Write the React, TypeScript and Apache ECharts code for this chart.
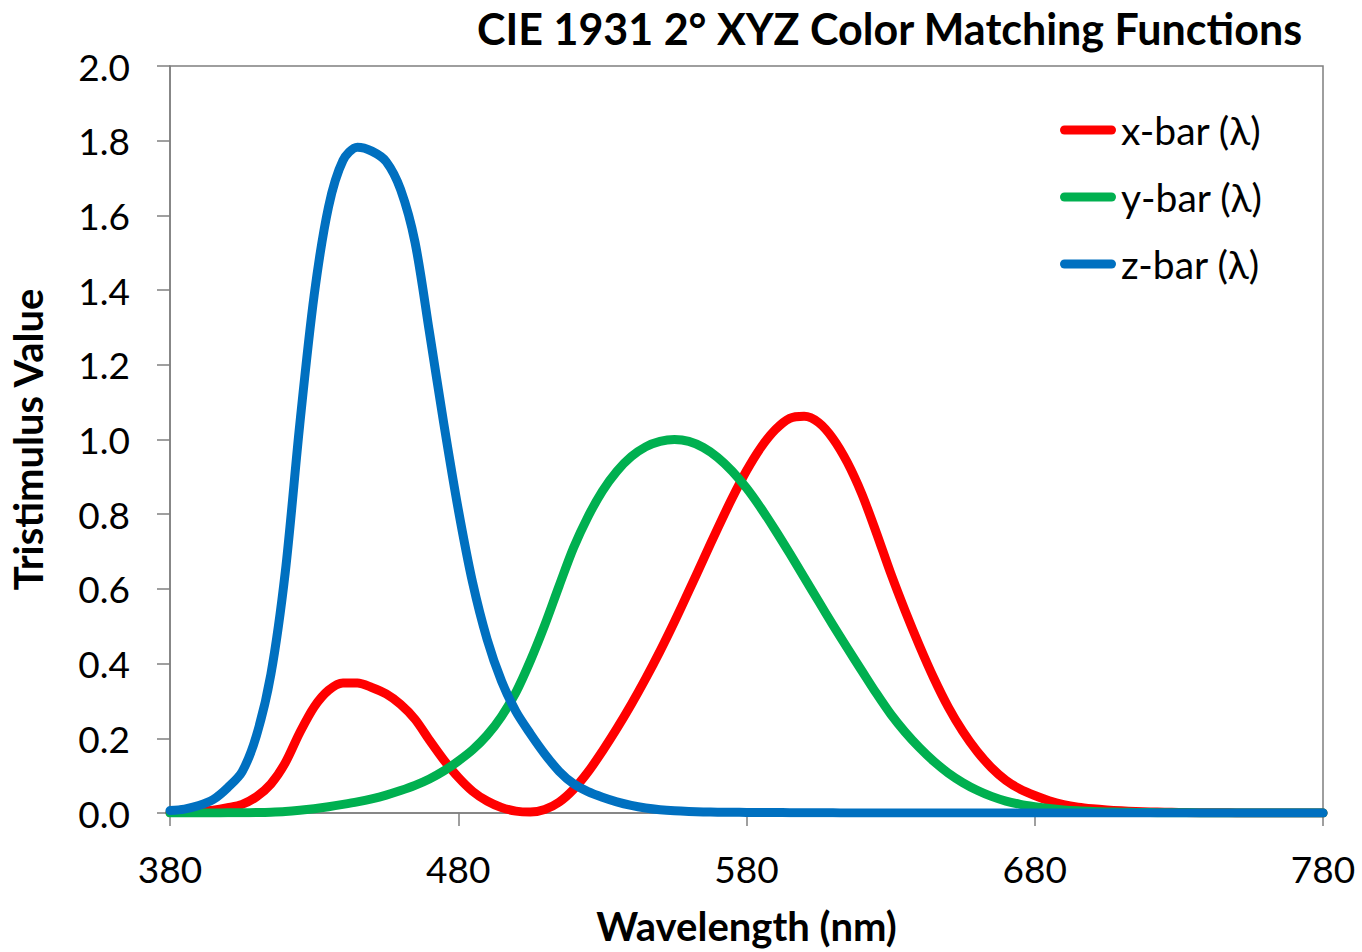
import React, { useEffect, useRef } from "react";
import * as echarts from "echarts";

const titleText = "CIE 1931 2° XYZ Color Matching Functions";
const xAxisTitle = "Wavelength (nm)";
const yAxisTitle = "Tristimulus Value";
const seriesNames = ["x-bar (λ)", "y-bar (λ)", "z-bar (λ)"];

const wavelengths = [
  380, 385, 390, 395, 400, 405, 410, 415, 420, 425, 430, 435, 440, 445, 450, 455,
  460, 465, 470, 475, 480, 485, 490, 495, 500, 505, 510, 515, 520, 525, 530, 535,
  540, 545, 550, 555, 560, 565, 570, 575, 580, 585, 590, 595, 600, 605, 610, 615,
  620, 625, 630, 635, 640, 645, 650, 655, 660, 665, 670, 675, 680, 685, 690, 695,
  700, 705, 710, 715, 720, 725, 730, 735, 740, 745, 750, 755, 760, 765, 770, 775, 780,
];

const xBar = [
  0.001368, 0.002236, 0.004243, 0.00765, 0.01431, 0.02319, 0.04351, 0.07763, 0.13438, 0.21477,
  0.2839, 0.3285, 0.34828, 0.34806, 0.3362, 0.3187, 0.2908, 0.2511, 0.19536, 0.1421,
  0.09564, 0.05795, 0.03201, 0.0147, 0.0049, 0.0024, 0.0093, 0.0291, 0.06327, 0.1096,
  0.1655, 0.22575, 0.2904, 0.3597, 0.43345, 0.51205, 0.5945, 0.6784, 0.7621, 0.8425,
  0.9163, 0.9786, 1.0263, 1.0567, 1.0622, 1.0456, 1.0026, 0.9384, 0.85445, 0.7514,
  0.6424, 0.5419, 0.4479, 0.3608, 0.2835, 0.2187, 0.1649, 0.1212, 0.0874, 0.0636,
  0.04677, 0.0329, 0.0227, 0.01584, 0.011359, 0.008111, 0.00579, 0.004109, 0.002899, 0.002049,
  0.00144, 0.001, 0.00069, 0.000476, 0.000332, 0.000235, 0.000166, 0.000117, 0.000083, 0.000059,
  0.000042,
];

const yBar = [
  0.000039, 0.000064, 0.00012, 0.000217, 0.000396, 0.00064, 0.00121, 0.00218, 0.004, 0.0073,
  0.0116, 0.01684, 0.023, 0.0298, 0.038, 0.048, 0.06, 0.0739, 0.09098, 0.1126,
  0.13902, 0.1693, 0.20802, 0.2586, 0.323, 0.4073, 0.503, 0.6082, 0.71, 0.7932,
  0.862, 0.91485, 0.954, 0.9803, 0.99495, 1.0, 0.995, 0.9786, 0.952, 0.9154,
  0.87, 0.8163, 0.757, 0.6949, 0.631, 0.5668, 0.503, 0.4412, 0.381, 0.321,
  0.265, 0.217, 0.175, 0.1382, 0.107, 0.0816, 0.061, 0.04458, 0.032, 0.0232,
  0.017, 0.01192, 0.00821, 0.005723, 0.004102, 0.002929, 0.002091, 0.001484, 0.001047, 0.00074,
  0.00052, 0.000361, 0.000249, 0.000172, 0.00012, 0.000085, 0.00006, 0.000042, 0.00003, 0.000021,
  0.000015,
];

const zBar = [
  0.00645, 0.01055, 0.02005, 0.03621, 0.06785, 0.1102, 0.2074, 0.3713, 0.6456, 1.03905,
  1.3856, 1.62296, 1.74706, 1.7826, 1.77211, 1.7441, 1.6692, 1.5281, 1.28764, 1.0419,
  0.81295, 0.6162, 0.46518, 0.3533, 0.272, 0.2123, 0.1582, 0.1117, 0.07825, 0.05725,
  0.04216, 0.02984, 0.0203, 0.0134, 0.00875, 0.00575, 0.0039, 0.00275, 0.0021, 0.0018,
  0.00165, 0.0014, 0.0011, 0.001, 0.0008, 0.0006, 0.00034, 0.00024, 0.00019, 0.0001,
  0.00005, 0.00003, 0.00002, 0.00001, 0, 0, 0, 0, 0, 0,
  0, 0, 0, 0, 0, 0, 0, 0, 0, 0,
  0, 0, 0, 0, 0, 0, 0, 0, 0, 0,
  0,
];

const colors = ["#FF0000", "#00B050", "#0070C0"];
const FONT = "Lato";

export default function App() {
  const ref = useRef<HTMLDivElement>(null);
  useEffect(() => {
    if (!ref.current) return;
    const chart = echarts.init(ref.current, null, { renderer: "svg" });
    const values = [xBar, yBar, zBar];
    const capsule = "path://M4.5,0 L51.5,0 A4.5,4.5 0 0 1 51.5,9 L4.5,9 A4.5,4.5 0 0 1 4.5,0 Z";
    chart.setOption({
      animation: false,
      backgroundColor: "#ffffff",
      title: {
        text: titleText,
        right: 54,
        top: 2,
        textStyle: { fontFamily: FONT, fontWeight: "bold", fontSize: 43, color: "#000" },
      },
      legend: {
        orient: "vertical",
        left: 1060,
        top: 110,
        padding: 0,
        itemGap: 27,
        itemWidth: 56,
        itemHeight: 9,
        icon: capsule,
        data: seriesNames.map((n, i) => ({ name: n, icon: capsule, itemStyle: { color: colors[i] } })),
        textStyle: { fontFamily: FONT, fontSize: 39, color: "#000", lineHeight: 40 },
      },
      grid: {
        left: 170,
        right: 39,
        top: 66,
        bottom: 139,
        show: true,
        borderColor: "#7f7f7f",
        borderWidth: 1.5,
        containLabel: false,
        outerBoundsMode: "none",
      },
      xAxis: {
        type: "value",
        min: 380,
        max: 780,
        interval: 100,
        name: xAxisTitle,
        nameLocation: "middle",
        nameGap: 93,
        nameTextStyle: { fontFamily: FONT, fontWeight: "bold", fontSize: 40, color: "#000" },
        axisLine: { show: true, lineStyle: { color: "#7f7f7f", width: 1.5 } },
        axisTick: { show: true, inside: false, length: 13, lineStyle: { color: "#7f7f7f", width: 1.5 } },
        axisLabel: { fontFamily: FONT, fontSize: 37, color: "#000", margin: 37 },
        splitLine: { show: false },
      },
      yAxis: {
        type: "value",
        min: 0,
        max: 2,
        interval: 0.2,
        name: yAxisTitle,
        nameLocation: "middle",
        nameRotate: 90,
        nameGap: 122,
        nameTextStyle: { fontFamily: FONT, fontWeight: "bold", fontSize: 40, color: "#000" },
        axisLine: { show: true, lineStyle: { color: "#7f7f7f", width: 1.5 } },
        axisTick: { show: true, inside: false, length: 13, lineStyle: { color: "#7f7f7f", width: 1.5 } },
        axisLabel: {
          fontFamily: FONT,
          fontSize: 37,
          color: "#000",
          margin: 40,
          formatter: (v: number) => v.toFixed(1),
        },
        splitLine: { show: false },
      },
      series: seriesNames.map((n, i) => ({
        name: n,
        type: "line",
        data: wavelengths.map((w, k) => [w, values[i][k]]),
        showSymbol: false,
        symbol: "none",
        smooth: 0.3,
        lineStyle: { color: colors[i], width: 9, cap: "round", join: "round" },
        itemStyle: { color: colors[i] },
        z: 2 + i,
      })),
    });
    return () => chart.dispose();
  }, []);
  return (
    <div
      ref={ref}
      style={{ position: "absolute", left: 0, top: 0, width: 1362, height: 952 }}
    />
  );
}
